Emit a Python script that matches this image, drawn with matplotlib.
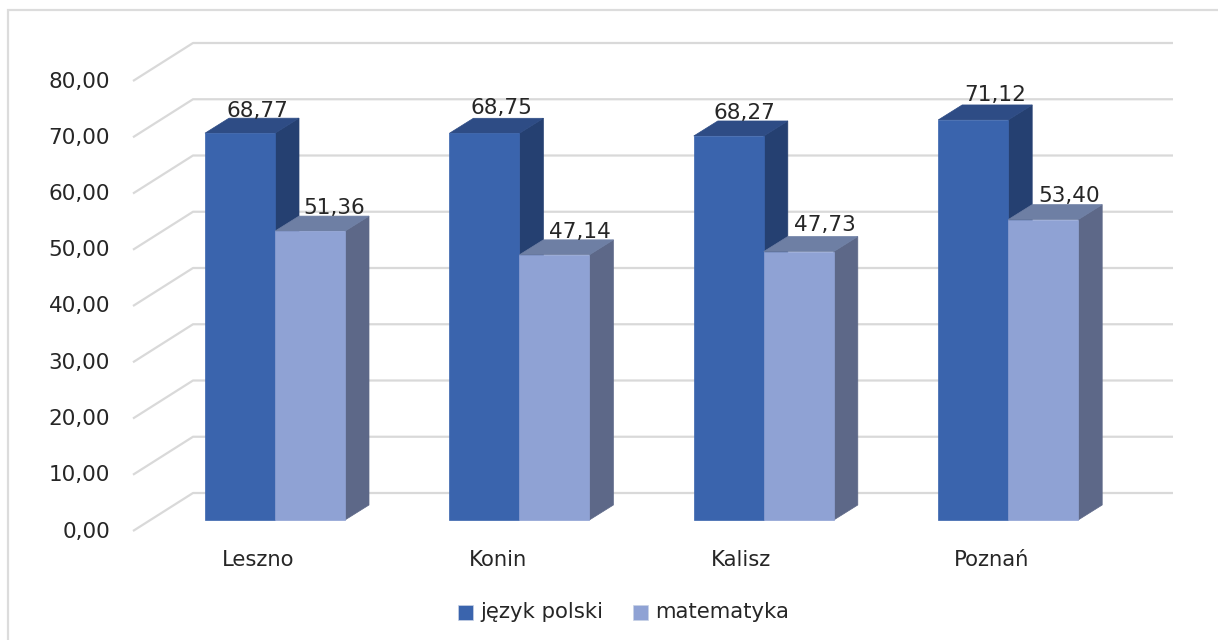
import matplotlib
matplotlib.use("Agg")
import matplotlib.pyplot as plt
from matplotlib.patches import Rectangle

cities = ["Leszno", "Konin", "Kalisz", "Poznań"]
polski = [68.77, 68.75, 68.27, 71.12]
matematyka = [51.36, 47.14, 47.73, 53.40]
y_ticks = [0, 10, 20, 30, 40, 50, 60, 70, 80]
series_names = ["język polski", "matematyka"]

W, H = 1218, 640
PX_Y = 5.625          # pixels per value unit
PX_X = 244.4          # pixels per category
X0 = 275.0            # pixel of category 0 centre
Y0 = 520.0            # pixel of value 0 (front plane)
px = lambda n: n / PX_X
py = lambda n: n / PX_Y

fig = plt.figure(figsize=(W / 100, H / 100), dpi=100, facecolor="white")
ax = fig.add_axes([0, 0, 1, 1])
ax.set_xlim(-X0 / PX_X, (W - X0) / PX_X)
ax.set_ylim(-(H - Y0) / PX_Y, Y0 / PX_Y)
ax.axis("off")

TXT = "#262626"
GRID = "#D9D9D9"

def xp(pixel):
    return (pixel - X0) / PX_X
def yp(pixel):
    return (Y0 - pixel) / PX_Y

# outer frame
ax.add_patch(Rectangle((xp(8), yp(660)), px(1300), py(650), fill=False,
                       edgecolor="#DCDCDC", linewidth=1.6, zorder=0))

for v in y_ticks:
    ax.plot([xp(133), xp(193), xp(1173)],
            [v + py(-11), v + py(27), v + py(27)],
            color=GRID, lw=1.6, zorder=1, solid_capstyle="butt")
    ax.text(xp(110), v + py(-11.5), f"{v:.2f}".replace(".", ","),
            ha="right", va="center", fontsize=15.5, color=TXT)

DX, DY = px(24), py(15)
BW = px(70)

def bar3d(x, v, front, top, side):
    ax.fill([x + BW, x + BW + DX, x + BW + DX, x + BW],
            [0, DY, v + DY, v], facecolor=side, edgecolor=side, lw=0.5, zorder=3)
    ax.fill([x, x + DX, x + BW + DX, x + BW],
            [v, v + DY, v + DY, v], facecolor=top, edgecolor=top, lw=0.5, zorder=3)
    ax.bar(x, v, width=BW, align="edge", color=front, edgecolor=front, lw=0.5, zorder=3)

category_dx = [-17, -21, -23, -17]
polski_label_dx = [17, 17, 16, 22]
polski_label_dy = [22, 25, 23, 25]
matematyka_label_dx = [24, 26, 26, 26]
matematyka_label_dy = [23, 23, 27, 24]

for i, c in enumerate(cities):
    bar3d(i - BW, polski[i], "#3A64AD", "#2E4C85", "#254071")
    bar3d(i, matematyka[i], "#8FA2D4", "#6E7FA4", "#5D6888")
    ax.text(i - BW / 2 + px(polski_label_dx[i]), polski[i] + py(polski_label_dy[i]),
            f"{polski[i]:.2f}".replace(".", ","),
            ha="center", va="center", fontsize=15.6, color=TXT, zorder=5)
    ax.text(i + BW / 2 + px(matematyka_label_dx[i]), matematyka[i] + py(matematyka_label_dy[i]),
            f"{matematyka[i]:.2f}".replace(".", ","),
            ha="center", va="center", fontsize=15.6, color=TXT, zorder=5)
    ax.text(i + px(category_dx[i]), yp(559.5), c, ha="center", va="center",
            fontsize=15.2, color=TXT)

# legend
for sx, tx, col, name in ((458, 480, "#3A64AD", series_names[0]),
                          (633, 655, "#8FA2D4", series_names[1])):
    ax.add_patch(Rectangle((xp(sx), yp(620)), px(15), py(15), facecolor=col,
                           edgecolor="#C8D2E6", lw=0.5))
    ax.text(xp(tx), yp(612.5), name, ha="left", va="center", fontsize=15.3, color=TXT)

fig.savefig("out.png", dpi=100)
